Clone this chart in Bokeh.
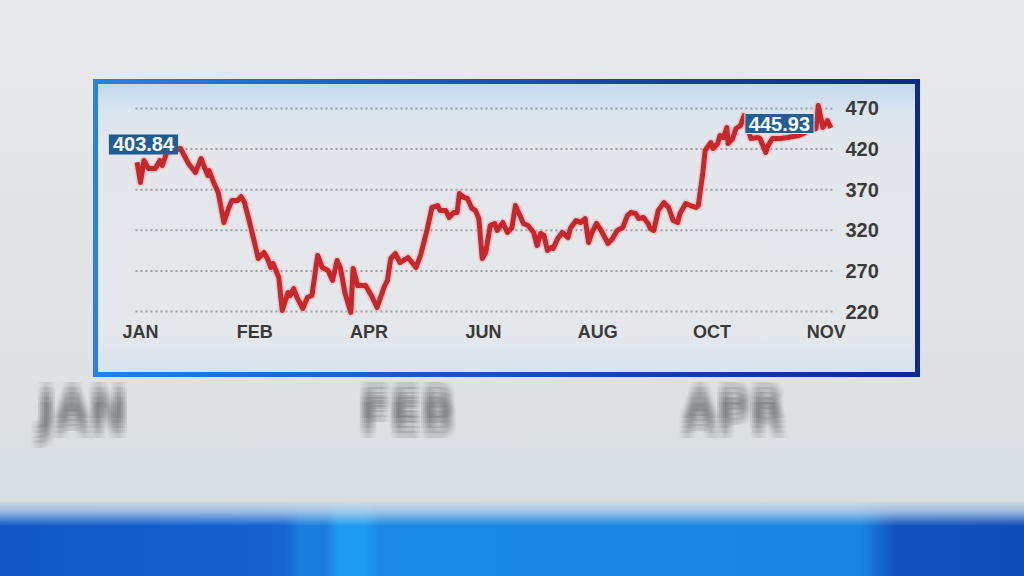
from bokeh.plotting import figure
from bokeh.models import Label, Range1d, FixedTicker
from bokeh.embed import file_html
from bokeh.resources import INLINE

# ---------------- data ----------------
months = ["JAN", "FEB", "APR", "JUN", "AUG", "OCT", "NOV"]
month_pos = [0, 1, 2, 3, 4, 5, 6]
y_ticks = [220, 270, 320, 370, 420, 470]

t = [-0.03, 0.00, 0.03, 0.07, 0.13, 0.17, 0.19, 0.23, 0.28, 0.35, 0.42, 0.48, 0.53, 0.56,
     0.59, 0.60, 0.64, 0.68, 0.73, 0.77, 0.80, 0.85, 0.88, 0.91, 0.95, 1.01, 1.03, 1.08,
     1.11, 1.14, 1.16, 1.21, 1.24, 1.29, 1.31, 1.34, 1.37, 1.42, 1.46, 1.50, 1.55, 1.59,
     1.64, 1.68, 1.72, 1.75, 1.79, 1.84, 1.86, 1.90, 1.97, 2.02, 2.07, 2.13, 2.16, 2.19,
     2.23, 2.27, 2.34, 2.41, 2.45, 2.51, 2.55, 2.60, 2.62, 2.67, 2.70, 2.74, 2.77, 2.79,
     2.83, 2.86, 2.90, 2.93, 2.96, 2.99, 3.02, 3.06, 3.10, 3.12, 3.17, 3.21, 3.25, 3.28,
     3.32, 3.35, 3.39, 3.44, 3.47, 3.50, 3.53, 3.56, 3.59, 3.61, 3.65, 3.69, 3.74, 3.76,
     3.81, 3.85, 3.89, 3.92, 3.95, 3.99, 4.03, 4.09, 4.13, 4.17, 4.22, 4.26, 4.29, 4.33,
     4.36, 4.40, 4.44, 4.46, 4.49, 4.53, 4.58, 4.62, 4.66, 4.70, 4.72, 4.77, 4.81, 4.86,
     4.88, 4.92, 4.94, 4.99, 5.01, 5.05, 5.07, 5.10, 5.13, 5.14, 5.18, 5.21, 5.25, 5.28,
     5.34, 5.40, 5.42, 5.47, 5.49, 5.53, 5.60, 5.66, 5.76, 5.80, 5.84, 5.91, 5.93, 5.97,
     6.01, 6.04]

price = [403.8, 378.9, 406.0, 396.1, 396.1, 406.0, 399.8, 415.8, 418.3, 420.7, 402.3, 391.2,
         408.4, 397.3, 387.5, 393.6, 378.9, 366.6, 329.6, 346.9, 356.7, 356.7, 361.6, 354.2,
         332.1, 297.6, 285.3, 292.7, 285.3, 274.2, 279.1, 261.9, 221.2, 243.4, 239.7, 248.3,
         237.2, 223.7, 237.2, 239.7, 289.0, 274.2, 270.5, 258.2, 282.8, 273.0, 242.2, 218.8,
         273.0, 252.0, 252.0, 239.7, 224.9, 249.6, 258.2, 285.3, 291.4, 280.3, 286.5, 274.2,
         289.0, 322.2, 348.1, 350.5, 344.4, 344.4, 335.8, 341.9, 341.9, 365.3, 360.4, 359.2,
         346.9, 344.4, 334.5, 285.3, 292.7, 325.9, 328.4, 319.8, 329.6, 317.3, 323.5, 350.5,
         338.2, 328.4, 325.9, 317.3, 301.3, 316.1, 313.6, 295.1, 298.8, 297.6, 309.9, 317.3,
         311.1, 322.2, 332.1, 329.6, 334.5, 305.0, 317.3, 328.4, 319.8, 303.7, 309.9, 319.8,
         323.5, 338.2, 341.9, 340.7, 334.5, 335.8, 328.4, 322.2, 319.8, 344.4, 354.2, 348.1,
         332.1, 329.6, 340.7, 353.0, 350.5, 348.1, 350.5, 391.2, 418.3, 428.1, 420.7, 426.9,
         436.7, 434.3, 446.6, 426.9, 433.1, 445.4, 449.1, 461.4, 433.1, 434.3, 433.1, 415.8,
         424.4, 433.1, 433.1, 434.3, 436.7, 439.2, 442.9, 445.4, 473.7, 446.6, 455.2, 446.0]

first_label = "403.84"
last_label = "445.93"

# blurred words of the studio backdrop behind the chart card
bg_words = ["JAN", "FEB", "APR"]
bg_word_x = [-0.507, 2.336, 5.188]
bg_word_y = 96.9

# ---------------- figure ----------------
W, H = 1024, 576
FONT = "Liberation Sans"
X0, X1 = -1.2248, 7.2091     # visible x range (whole canvas width minus right border)
Y0, Y1 = -57.08, 603.0       # visible y range (whole canvas height minus bottom border)
GX0, GX1 = -0.044, 6.063     # extent of the dotted guide lines
AXIS_Y = 211.4               # where the month axis sits

bg_css = ", ".join([
    # chart panel interior
    "linear-gradient(180deg, #c3daee 0px, #dae5ee 28px, #e3e7eb 60px, #e5e8eb 250px, #d6e3ee 288px) 98px 84px / 817px 288px no-repeat",
    # chart panel blue frame
    "linear-gradient(90deg, #2a80e5 0%, #1d5cc4 35%, #173fa3 70%, #0c2a8b 100%) 93px 79px / 827px 298px no-repeat",
    # soft transition into the blue band
    "linear-gradient(180deg, #dadfe3 0px, rgba(196,216,233,0.75) 12px, rgba(160,200,235,0) 26px) 0px 500px / 1024px 26px no-repeat",
    # blue band at the bottom
    "linear-gradient(90deg, #1158c6 0px, #1563cf 285px, #1a7ddd 300px, #1a7ddd 326px, #1e9cf0 338px, #1e9cf0 364px, #1a88e5 380px, #1a86e4 860px, #1252bd 895px, #0f4cb5 1024px) 0px 500px / 1024px 76px no-repeat",
    # page background
    "linear-gradient(180deg, #e8e9ea 0px, #e1e4e6 300px, #d9dee2 500px) 0px 0px / 1024px 500px no-repeat",
])

p = figure(width=W, height=H, output_backend="svg", toolbar_location=None,
           x_range=Range1d(X0, X1), y_range=Range1d(Y0, Y1),
           y_axis_location="right",
           min_border_left=0, min_border_right=60, min_border_top=0, min_border_bottom=40,
           styles={"background": bg_css})
p.outline_line_color = None
p.border_fill_color = None
p.background_fill_color = None

# blurred big background words (fake blur with offset copies)
for word, wx in zip(bg_words, bg_word_x):
    for dx in (-4, -2, 0, 2, 4):
        for dy in (-10, -5, 0, 5, 10):
            p.add_layout(Label(x=wx, y=bg_word_y, x_offset=dx, y_offset=dy,
                               text=word, text_align="center", text_baseline="middle",
                               text_font="Liberation Sans Narrow, DejaVu Sans Condensed",
                               text_font_style="bold", text_font_size="50px",
                               text_color="#666666", text_alpha=0.045))

# axes (placed at fixed data locations inside the card)
p.xaxis.ticker = FixedTicker(ticks=month_pos)
p.xaxis.major_label_overrides = {m: lab for m, lab in zip(month_pos, months)}
p.xaxis.fixed_location = AXIS_Y
p.yaxis.ticker = FixedTicker(ticks=y_ticks)
p.yaxis.fixed_location = GX1
for ax in (p.xaxis[0], p.yaxis[0]):
    ax.axis_line_color = None
    ax.major_tick_line_color = None
    ax.minor_tick_line_color = None
    ax.major_tick_out = 0
    ax.major_tick_in = 0
    ax.major_label_text_font = FONT
    ax.major_label_text_font_style = "bold"
    ax.major_label_text_color = "#3a3a3a"
p.xaxis.major_label_text_font_size = "18px"
p.xaxis.major_label_standoff = 4
p.yaxis.major_label_text_font_size = "20px"
p.yaxis.major_label_standoff = 12

# dotted guide lines at the y ticks
p.xgrid.visible = False
p.ygrid.visible = False
p.segment(x0=[GX0] * len(y_ticks), x1=[GX1] * len(y_ticks), y0=y_ticks, y1=y_ticks,
          line_color="#9a9ea2", line_width=2, line_dash="2 3")

# price line
p.line(t, price, line_color="#f1b3b3", line_width=8, line_alpha=0.6, line_join="round")
p.line(t, price, line_color="#c9262b", line_width=5, line_join="round")

# value tags
tag_pad = dict(left=4, right=4, top=3, bottom=3)
p.add_layout(Label(x=0.026, y=425.7, text=first_label, text_align="center",
                   text_baseline="middle", text_font=FONT, text_font_style="bold",
                   text_font_size="20px", text_color="white",
                   background_fill_color="#1f5e93", padding=tag_pad))
p.add_layout(Label(x=5.59, y=451.5, text=last_label, text_align="center",
                   text_baseline="middle", text_font=FONT, text_font_style="bold",
                   text_font_size="20px", text_color="white",
                   background_fill_color="#1f5e93", border_line_color="#d5e6f3",
                   border_line_width=1, padding=tag_pad))

open("out.html", "w").write(file_html(p, INLINE))
